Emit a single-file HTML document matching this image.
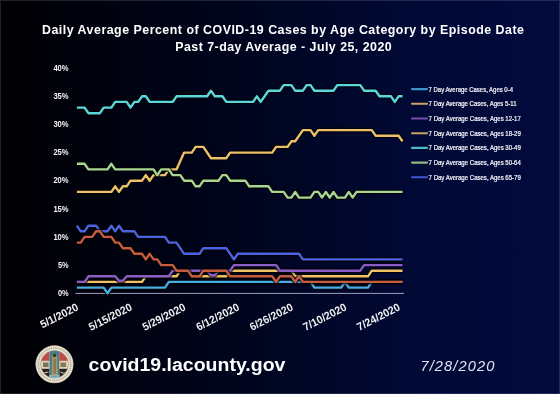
<!DOCTYPE html>
<html><head><meta charset="utf-8">
<style>
html,body{margin:0;padding:0;width:560px;height:394px;overflow:hidden;background:#000;}
.wrap{position:relative;width:560px;height:394px;background:linear-gradient(90deg,#000003 0%,#00020e 18%,#00051f 45%,#010936 75%,#010a3c 100%);}
.brd{position:absolute;left:0;top:0;width:558px;height:392px;border:1px solid rgba(200,205,235,0.16);}
svg{position:absolute;left:0;top:0;will-change:transform;}
text{font-family:"Liberation Sans",sans-serif;fill:#fff;}
.t{font-weight:bold;font-size:12.4px;}
.yl{font-weight:bold;font-size:8.2px;fill:#f4f4f4;}
.xl{font-weight:bold;font-size:11px;fill:#f0f0f0;}
.lg{font-size:6.8px;fill:#f6f6fa;stroke:#f6f6fa;stroke-width:0.22px;}
.url{font-weight:bold;font-size:18px;}
.dt{font-style:italic;font-size:14.6px;fill:#e4e4f2;}
</style></head><body><div class="wrap">
<svg width="560" height="394" viewBox="0 0 560 394">
<text x="42" y="33.8" class="t" textLength="482" lengthAdjust="spacing">Daily Average Percent of COVID-19 Cases by Age Category by Episode Date</text>
<text x="175.2" y="50.6" class="t" textLength="216.5" lengthAdjust="spacing">Past 7-day Average - July 25, 2020</text>
<text x="68.6" y="295.9" text-anchor="end" class="yl" textLength="10.7" lengthAdjust="spacingAndGlyphs">0%</text>
<text x="68.6" y="267.8" text-anchor="end" class="yl" textLength="10.7" lengthAdjust="spacingAndGlyphs">5%</text>
<text x="68.6" y="239.7" text-anchor="end" class="yl" textLength="15.2" lengthAdjust="spacingAndGlyphs">10%</text>
<text x="68.6" y="211.6" text-anchor="end" class="yl" textLength="15.2" lengthAdjust="spacingAndGlyphs">15%</text>
<text x="68.6" y="183.4" text-anchor="end" class="yl" textLength="15.2" lengthAdjust="spacingAndGlyphs">20%</text>
<text x="68.6" y="155.3" text-anchor="end" class="yl" textLength="15.2" lengthAdjust="spacingAndGlyphs">25%</text>
<text x="68.6" y="127.2" text-anchor="end" class="yl" textLength="15.2" lengthAdjust="spacingAndGlyphs">30%</text>
<text x="68.6" y="99.1" text-anchor="end" class="yl" textLength="15.2" lengthAdjust="spacingAndGlyphs">35%</text>
<text x="68.6" y="70.9" text-anchor="end" class="yl" textLength="15.2" lengthAdjust="spacingAndGlyphs">40%</text>
<line x1="75.5" y1="293.4" x2="404" y2="293.4" stroke="#9ba1ba" stroke-width="1"/>
<path d="M76.9 287.6 L103.7 287.6 L107.5 293.2 L111.4 287.6 L165.0 287.6 L168.8 281.9 L310.5 281.9 L314.4 287.6 L341.2 287.6 L345.0 281.9 L348.8 287.6 L368.0 287.6 L371.8 281.9 L402.5 281.9" stroke="#000" stroke-opacity="0.7" stroke-width="5.0" fill="none" stroke-linejoin="round" stroke-linecap="butt"/>
<path d="M76.9 287.6 L103.7 287.6 L107.5 293.2 L111.4 287.6 L165.0 287.6 L168.8 281.9 L310.5 281.9 L314.4 287.6 L341.2 287.6 L345.0 281.9 L348.8 287.6 L368.0 287.6 L371.8 281.9 L402.5 281.9" stroke="#48ade2" stroke-width="2.4" fill="none" stroke-linejoin="round" stroke-linecap="butt"/>
<path d="M76.9 281.9 L142.0 281.9 L145.8 276.3 L176.5 276.3 L180.3 270.7 L188.0 270.7 L191.8 276.3 L226.3 276.3 L230.1 270.7 L291.4 270.7 L295.2 276.3 L368.0 276.3 L371.8 270.7 L402.5 270.7" stroke="#000" stroke-opacity="0.7" stroke-width="5.0" fill="none" stroke-linejoin="round" stroke-linecap="butt"/>
<path d="M76.9 281.9 L142.0 281.9 L145.8 276.3 L176.5 276.3 L180.3 270.7 L188.0 270.7 L191.8 276.3 L226.3 276.3 L230.1 270.7 L291.4 270.7 L295.2 276.3 L368.0 276.3 L371.8 270.7 L402.5 270.7" stroke="#f0c265" stroke-width="2.4" fill="none" stroke-linejoin="round" stroke-linecap="butt"/>
<path d="M76.9 281.9 L84.6 281.9 L88.4 276.3 L115.2 276.3 L119.0 280.8 L122.9 280.8 L126.7 276.3 L168.8 276.3 L172.7 270.7 L207.1 270.7 L211.0 275.2 L214.8 275.2 L218.6 270.7 L230.1 270.7 L233.9 265.1 L276.1 265.1 L279.9 270.7 L360.3 270.7 L364.1 265.1 L402.5 265.1" stroke="#000" stroke-opacity="0.7" stroke-width="5.0" fill="none" stroke-linejoin="round" stroke-linecap="butt"/>
<path d="M76.9 281.9 L84.6 281.9 L88.4 276.3 L115.2 276.3 L119.0 280.8 L122.9 280.8 L126.7 276.3 L168.8 276.3 L172.7 270.7 L207.1 270.7 L211.0 275.2 L214.8 275.2 L218.6 270.7 L230.1 270.7 L233.9 265.1 L276.1 265.1 L279.9 270.7 L360.3 270.7 L364.1 265.1 L402.5 265.1" stroke="#8a5cc6" stroke-width="2.4" fill="none" stroke-linejoin="round" stroke-linecap="butt"/>
<path d="M76.9 191.9 L111.4 191.9 L115.2 186.3 L119.0 191.9 L122.9 186.3 L126.7 186.3 L130.5 180.7 L142.0 180.7 L145.8 175.1 L149.7 180.7 L153.5 175.1 L165.0 175.1 L168.8 169.4 L176.5 169.4 L184.1 152.6 L191.8 152.6 L195.6 146.9 L203.3 146.9 L211.0 158.2 L226.3 158.2 L230.1 152.6 L272.2 152.6 L276.1 146.9 L287.6 146.9 L291.4 141.3 L295.2 141.3 L302.9 130.1 L310.5 130.1 L314.4 135.7 L318.2 130.1 L371.8 130.1 L375.6 135.7 L398.6 135.7 L402.5 141.3" stroke="#000" stroke-opacity="0.7" stroke-width="5.0" fill="none" stroke-linejoin="round" stroke-linecap="butt"/>
<path d="M76.9 191.9 L111.4 191.9 L115.2 186.3 L119.0 191.9 L122.9 186.3 L126.7 186.3 L130.5 180.7 L142.0 180.7 L145.8 175.1 L149.7 180.7 L153.5 175.1 L165.0 175.1 L168.8 169.4 L176.5 169.4 L184.1 152.6 L191.8 152.6 L195.6 146.9 L203.3 146.9 L211.0 158.2 L226.3 158.2 L230.1 152.6 L272.2 152.6 L276.1 146.9 L287.6 146.9 L291.4 141.3 L295.2 141.3 L302.9 130.1 L310.5 130.1 L314.4 135.7 L318.2 130.1 L371.8 130.1 L375.6 135.7 L398.6 135.7 L402.5 141.3" stroke="#ebbf6c" stroke-width="2.4" fill="none" stroke-linejoin="round" stroke-linecap="butt"/>
<path d="M76.9 107.6 L84.6 107.6 L88.4 113.2 L99.9 113.2 L103.7 107.6 L111.4 107.6 L115.2 101.9 L126.7 101.9 L130.5 107.6 L134.4 101.9 L138.2 101.9 L142.0 96.3 L145.8 96.3 L149.7 101.9 L172.7 101.9 L176.5 96.3 L207.1 96.3 L211.0 90.7 L214.8 96.3 L222.4 96.3 L226.3 101.9 L253.1 101.9 L256.9 96.3 L260.7 101.9 L268.4 90.7 L279.9 90.7 L283.7 85.1 L291.4 85.1 L295.2 90.7 L302.9 90.7 L306.7 85.1 L310.5 85.1 L314.4 90.7 L333.5 90.7 L337.3 85.1 L360.3 85.1 L364.1 90.7 L375.6 90.7 L379.5 96.3 L391.0 96.3 L394.8 101.9 L398.6 96.3 L402.5 96.3" stroke="#000" stroke-opacity="0.7" stroke-width="5.0" fill="none" stroke-linejoin="round" stroke-linecap="butt"/>
<path d="M76.9 107.6 L84.6 107.6 L88.4 113.2 L99.9 113.2 L103.7 107.6 L111.4 107.6 L115.2 101.9 L126.7 101.9 L130.5 107.6 L134.4 101.9 L138.2 101.9 L142.0 96.3 L145.8 96.3 L149.7 101.9 L172.7 101.9 L176.5 96.3 L207.1 96.3 L211.0 90.7 L214.8 96.3 L222.4 96.3 L226.3 101.9 L253.1 101.9 L256.9 96.3 L260.7 101.9 L268.4 90.7 L279.9 90.7 L283.7 85.1 L291.4 85.1 L295.2 90.7 L302.9 90.7 L306.7 85.1 L310.5 85.1 L314.4 90.7 L333.5 90.7 L337.3 85.1 L360.3 85.1 L364.1 90.7 L375.6 90.7 L379.5 96.3 L391.0 96.3 L394.8 101.9 L398.6 96.3 L402.5 96.3" stroke="#5cd8dc" stroke-width="2.4" fill="none" stroke-linejoin="round" stroke-linecap="butt"/>
<path d="M76.9 163.8 L84.6 163.8 L88.4 169.4 L107.5 169.4 L111.4 163.8 L115.2 169.4 L153.5 169.4 L157.3 175.1 L161.2 169.4 L168.8 169.4 L172.7 175.1 L180.3 175.1 L184.1 180.7 L191.8 180.7 L195.6 186.3 L199.5 186.3 L203.3 180.7 L218.6 180.7 L222.4 175.1 L226.3 175.1 L230.1 180.7 L245.4 180.7 L249.2 186.3 L268.4 186.3 L272.2 191.9 L283.7 191.9 L287.6 197.6 L291.4 197.6 L295.2 191.9 L299.0 197.6 L310.5 197.6 L314.4 191.9 L318.2 191.9 L322.0 197.6 L325.9 191.9 L329.7 197.6 L333.5 191.9 L337.3 197.6 L345.0 197.6 L348.8 191.9 L352.7 197.6 L356.5 191.9 L402.5 191.9" stroke="#000" stroke-opacity="0.7" stroke-width="5.0" fill="none" stroke-linejoin="round" stroke-linecap="butt"/>
<path d="M76.9 163.8 L84.6 163.8 L88.4 169.4 L107.5 169.4 L111.4 163.8 L115.2 169.4 L153.5 169.4 L157.3 175.1 L161.2 169.4 L168.8 169.4 L172.7 175.1 L180.3 175.1 L184.1 180.7 L191.8 180.7 L195.6 186.3 L199.5 186.3 L203.3 180.7 L218.6 180.7 L222.4 175.1 L226.3 175.1 L230.1 180.7 L245.4 180.7 L249.2 186.3 L268.4 186.3 L272.2 191.9 L283.7 191.9 L287.6 197.6 L291.4 197.6 L295.2 191.9 L299.0 197.6 L310.5 197.6 L314.4 191.9 L318.2 191.9 L322.0 197.6 L325.9 191.9 L329.7 197.6 L333.5 191.9 L337.3 197.6 L345.0 197.6 L348.8 191.9 L352.7 197.6 L356.5 191.9 L402.5 191.9" stroke="#a9d592" stroke-width="2.4" fill="none" stroke-linejoin="round" stroke-linecap="butt"/>
<path d="M76.9 225.7 L80.7 231.3 L84.6 231.3 L88.4 225.7 L96.1 225.7 L99.9 231.3 L107.5 231.3 L111.4 225.7 L115.2 231.3 L119.0 225.7 L122.9 231.3 L134.4 231.3 L138.2 236.9 L165.0 236.9 L168.8 242.6 L176.5 242.6 L184.1 253.8 L199.5 253.8 L203.3 248.2 L226.3 248.2 L233.9 259.4 L237.8 253.8 L299.0 253.8 L302.9 259.4 L402.5 259.4" stroke="#000" stroke-opacity="0.7" stroke-width="5.0" fill="none" stroke-linejoin="round" stroke-linecap="butt"/>
<path d="M76.9 225.7 L80.7 231.3 L84.6 231.3 L88.4 225.7 L96.1 225.7 L99.9 231.3 L107.5 231.3 L111.4 225.7 L115.2 231.3 L119.0 225.7 L122.9 231.3 L134.4 231.3 L138.2 236.9 L165.0 236.9 L168.8 242.6 L176.5 242.6 L184.1 253.8 L199.5 253.8 L203.3 248.2 L226.3 248.2 L233.9 259.4 L237.8 253.8 L299.0 253.8 L302.9 259.4 L402.5 259.4" stroke="#4d64e2" stroke-width="2.4" fill="none" stroke-linejoin="round" stroke-linecap="butt"/>
<path d="M76.9 242.6 L80.7 242.6 L84.6 236.9 L92.2 236.9 L96.1 231.3 L99.9 231.3 L103.7 236.9 L111.4 236.9 L115.2 242.6 L119.0 242.6 L122.9 248.2 L130.5 248.2 L134.4 253.8 L142.0 253.8 L145.8 259.4 L149.7 253.8 L153.5 259.4 L157.3 259.4 L161.2 265.1 L172.7 265.1 L176.5 270.7 L188.0 270.7 L191.8 276.3 L199.5 276.3 L203.3 270.7 L226.3 270.7 L230.1 276.3 L272.2 276.3 L276.1 281.9 L279.9 276.3 L291.4 276.3 L295.2 281.9 L299.0 276.3 L302.9 281.9 L402.5 281.9" stroke="#000" stroke-opacity="0.7" stroke-width="5.0" fill="none" stroke-linejoin="round" stroke-linecap="butt"/>
<path d="M76.9 242.6 L80.7 242.6 L84.6 236.9 L92.2 236.9 L96.1 231.3 L99.9 231.3 L103.7 236.9 L111.4 236.9 L115.2 242.6 L119.0 242.6 L122.9 248.2 L130.5 248.2 L134.4 253.8 L142.0 253.8 L145.8 259.4 L149.7 253.8 L153.5 259.4 L157.3 259.4 L161.2 265.1 L172.7 265.1 L176.5 270.7 L188.0 270.7 L191.8 276.3 L199.5 276.3 L203.3 270.7 L226.3 270.7 L230.1 276.3 L272.2 276.3 L276.1 281.9 L279.9 276.3 L291.4 276.3 L295.2 281.9 L299.0 276.3 L302.9 281.9 L402.5 281.9" stroke="#c55c40" stroke-width="2.4" fill="none" stroke-linejoin="round" stroke-linecap="butt"/>
<text transform="translate(76.1 303.2) rotate(-27)" x="0" y="7.2" text-anchor="end" class="xl" textLength="41.5" lengthAdjust="spacingAndGlyphs">5/1/2020</text>
<text transform="translate(129.7 303.2) rotate(-27)" x="0" y="7.2" text-anchor="end" class="xl" textLength="47.0" lengthAdjust="spacingAndGlyphs">5/15/2020</text>
<text transform="translate(183.3 303.2) rotate(-27)" x="0" y="7.2" text-anchor="end" class="xl" textLength="47.0" lengthAdjust="spacingAndGlyphs">5/29/2020</text>
<text transform="translate(237.0 303.2) rotate(-27)" x="0" y="7.2" text-anchor="end" class="xl" textLength="47.0" lengthAdjust="spacingAndGlyphs">6/12/2020</text>
<text transform="translate(290.6 303.2) rotate(-27)" x="0" y="7.2" text-anchor="end" class="xl" textLength="47.0" lengthAdjust="spacingAndGlyphs">6/26/2020</text>
<text transform="translate(344.2 303.2) rotate(-27)" x="0" y="7.2" text-anchor="end" class="xl" textLength="47.0" lengthAdjust="spacingAndGlyphs">7/10/2020</text>
<text transform="translate(397.8 303.2) rotate(-27)" x="0" y="7.2" text-anchor="end" class="xl" textLength="47.0" lengthAdjust="spacingAndGlyphs">7/24/2020</text>
<line x1="412" y1="89.1" x2="427" y2="89.1" stroke="#48ade2" stroke-width="2.1" stroke-linecap="round" stroke-opacity="0.85"/>
<text x="428.6" y="91.5" class="lg" textLength="84.4" lengthAdjust="spacingAndGlyphs">7 Day Average Cases, Ages 0-4</text>
<line x1="412" y1="103.8" x2="427" y2="103.8" stroke="#f0c265" stroke-width="2.1" stroke-linecap="round" stroke-opacity="0.85"/>
<text x="428.6" y="106.2" class="lg" textLength="88.0" lengthAdjust="spacingAndGlyphs">7 Day Average Cases, Ages 5-11</text>
<line x1="412" y1="118.5" x2="427" y2="118.5" stroke="#8a5cc6" stroke-width="2.1" stroke-linecap="round" stroke-opacity="0.85"/>
<text x="428.6" y="120.9" class="lg" textLength="92.2" lengthAdjust="spacingAndGlyphs">7 Day Average Cases, Ages 12-17</text>
<line x1="412" y1="133.2" x2="427" y2="133.2" stroke="#ebbf6c" stroke-width="2.1" stroke-linecap="round" stroke-opacity="0.85"/>
<text x="428.6" y="135.6" class="lg" textLength="92.2" lengthAdjust="spacingAndGlyphs">7 Day Average Cases, Ages 18-29</text>
<line x1="412" y1="147.9" x2="427" y2="147.9" stroke="#5cd8dc" stroke-width="2.1" stroke-linecap="round" stroke-opacity="0.85"/>
<text x="428.6" y="150.3" class="lg" textLength="92.2" lengthAdjust="spacingAndGlyphs">7 Day Average Cases, Ages 30-49</text>
<line x1="412" y1="162.6" x2="427" y2="162.6" stroke="#a9d592" stroke-width="2.1" stroke-linecap="round" stroke-opacity="0.85"/>
<text x="428.6" y="165.0" class="lg" textLength="92.2" lengthAdjust="spacingAndGlyphs">7 Day Average Cases, Ages 50-64</text>
<line x1="412" y1="177.3" x2="427" y2="177.3" stroke="#4d64e2" stroke-width="2.1" stroke-linecap="round" stroke-opacity="0.85"/>
<text x="428.6" y="179.7" class="lg" textLength="92.2" lengthAdjust="spacingAndGlyphs">7 Day Average Cases, Ages 65-79</text>

<defs><clipPath id="sc"><circle r="13.5"/></clipPath></defs>
<g transform="translate(54.5 364.3)">
  <circle r="18.8" fill="#ebe3d2"/>
  <circle r="16.2" fill="none" stroke="#7d7462" stroke-width="1.8" stroke-dasharray="1.1 0.8" opacity="0.5"/>
  <circle r="18.6" fill="none" stroke="#c9bfa8" stroke-width="0.5"/>
  <circle r="13.9" fill="#6a6050"/>
  <g clip-path="url(#sc)">
    <rect x="-14" y="-14" width="28" height="28" fill="#e2d8c2"/>
    <rect x="-14" y="-14" width="9" height="10.5" fill="#c04a48"/>
    <rect x="4.8" y="-14" width="9.4" height="10.5" fill="#c04a48"/>
    <rect x="-14" y="4.5" width="9" height="12" fill="#25211a"/>
    <rect x="4.8" y="4.5" width="9.4" height="12" fill="#25211a"/>
    <path d="M-12.5 8.5 L-6 7.2 L-6 8.3 L-12.5 9.6 Z" fill="#d6ccb5"/>
    <path d="M6 7.2 L9 8.4 L12.5 7.2 L12.5 8.3 L9 9.5 L6 8.3 Z" fill="#d6ccb5"/>
    <rect x="-11.5" y="-1.8" width="5.6" height="4.6" fill="#7d715a"/>
    <rect x="6" y="-1.8" width="5.6" height="4.6" fill="#8a7656"/>
    <rect x="-5" y="-14" width="9.8" height="26" fill="#45808a"/>
    <path d="M-2.3 -8 Q0 -12.5 2.5 -8 L3.3 11 L-2.8 11 Z" fill="#a8996a"/>
    <circle cx="0.1" cy="-8.8" r="1.7" fill="#3a3222"/>
    <rect x="-1" y="-5.5" width="2.4" height="15" fill="#857650"/>
    <rect x="-5" y="11" width="9.8" height="4" fill="#e2d8c2"/>
    <rect x="-4" y="11.2" width="8" height="3" fill="#62a9c2"/>
  </g>
</g>
<text x="88.6" y="371.1" class="url" textLength="196.8" lengthAdjust="spacingAndGlyphs">covid19.lacounty.gov</text>
<text x="420.4" y="371.1" class="dt" textLength="74" lengthAdjust="spacing">7/28/2020</text>
</svg>
<div class="brd"></div>
</div></body></html>
